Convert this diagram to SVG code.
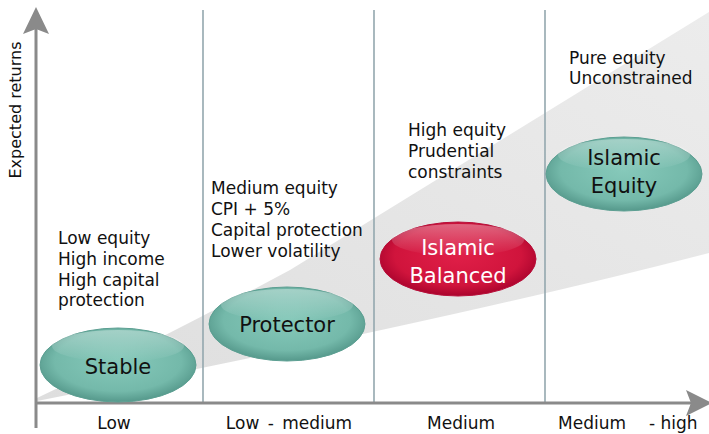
<svg xmlns="http://www.w3.org/2000/svg" width="709" height="434" viewBox="0 0 709 434">
<style>
.lbl{font-family:"DejaVu Sans",Verdana,sans-serif;font-size:17px;fill:#111}
.nd{font-family:"DejaVu Sans",Verdana,sans-serif;font-size:21px;text-anchor:middle}
.sep{stroke:#93a7ae;stroke-width:1.6}
.ax{stroke:#8a8a8a;stroke-width:3;fill:none}
</style>
<defs>
<linearGradient id="band" x1="0" y1="1" x2="1" y2="0">
<stop offset="0" stop-color="#dedede"/>
<stop offset="1" stop-color="#ececec"/>
</linearGradient>
<radialGradient id="teal" cx="50%" cy="45%" r="58%">
<stop offset="0" stop-color="#86c9ba"/>
<stop offset="0.7" stop-color="#74b9aa"/>
<stop offset="1" stop-color="#4f9285"/>
</radialGradient>
<radialGradient id="red" cx="50%" cy="45%" r="58%">
<stop offset="0" stop-color="#e01f48"/>
<stop offset="0.7" stop-color="#d0143c"/>
<stop offset="1" stop-color="#a2002a"/>
</radialGradient>
<linearGradient id="hl" x1="0" y1="0" x2="0" y2="1">
<stop offset="0" stop-color="#fff" stop-opacity="0.35"/>
<stop offset="1" stop-color="#fff" stop-opacity="0"/>
</linearGradient>
</defs>

<path d="M37,398 Q150,345 290,270 L709,12 L709,253 Q450,320 37,401 Z" fill="url(#band)"/>

<g id="connectors">
<line class="sep" x1="203" y1="10" x2="203" y2="402"/>
<line class="sep" x1="374" y1="10" x2="374" y2="402"/>
<line class="sep" x1="545" y1="10" x2="545" y2="402"/>
<line class="ax" x1="36" y1="428" x2="36" y2="28"/>
<path d="M36,7 L49,34 L36,29 L23,34 Z" fill="#8a8a8a"/>
<line class="ax" x1="36" y1="403" x2="692" y2="403"/>
<path d="M712,403 L686,390 L691,403 L686,416 Z" fill="#8a8a8a"/>
</g>

<g id="node-stable">
<ellipse cx="118" cy="365" rx="78" ry="37" fill="url(#teal)" stroke="#5c9f92" stroke-width="1"/>
<ellipse cx="118" cy="346" rx="66" ry="16" fill="url(#hl)"/>
<text class="nd" x="118" y="374" fill="#111">Stable</text>
</g>
<g id="node-protector">
<ellipse cx="287" cy="324" rx="78" ry="37" fill="url(#teal)" stroke="#5c9f92" stroke-width="1"/>
<ellipse cx="287" cy="305" rx="66" ry="16" fill="url(#hl)"/>
<text class="nd" x="287" y="332" fill="#111">Protector</text>
</g>
<g id="node-islamic-balanced">
<ellipse cx="458" cy="259" rx="78" ry="37" fill="url(#red)" stroke="#b8103a" stroke-width="1"/>
<ellipse cx="458" cy="240" rx="66" ry="16" fill="url(#hl)"/>
<text class="nd" x="458" y="255" fill="#fff">Islamic</text>
<text class="nd" x="458" y="283" fill="#fff">Balanced</text>
</g>
<g id="node-islamic-equity">
<ellipse cx="624" cy="174" rx="78" ry="37" fill="url(#teal)" stroke="#5c9f92" stroke-width="1"/>
<ellipse cx="624" cy="155" rx="66" ry="16" fill="url(#hl)"/>
<text class="nd" x="624" y="165" fill="#111">Islamic</text>
<text class="nd" x="624" y="193" fill="#111">Equity</text>
</g>

<g id="labels">
<text class="lbl" x="58" y="244">Low equity</text>
<text class="lbl" x="58" y="265">High income</text>
<text class="lbl" x="58" y="286">High capital</text>
<text class="lbl" x="58" y="306">protection</text>

<text class="lbl" x="211" y="194">Medium equity</text>
<text class="lbl" x="211" y="215">CPI + 5%</text>
<text class="lbl" x="211" y="236">Capital protection</text>
<text class="lbl" x="211" y="257">Lower volatility</text>

<text class="lbl" x="408" y="136">High equity</text>
<text class="lbl" x="408" y="157">Prudential</text>
<text class="lbl" x="408" y="178">constraints</text>

<text class="lbl" x="569" y="64">Pure equity</text>
<text class="lbl" x="569" y="84">Unconstrained</text>

<text class="lbl" x="114" y="429" text-anchor="middle">Low</text>
<text class="lbl" x="289" y="429" text-anchor="middle" word-spacing="3">Low - medium</text>
<text class="lbl" x="461" y="429" text-anchor="middle">Medium</text>
<text class="lbl" x="558" y="429">Medium <tspan x="649">- high</tspan></text>

<text class="lbl" x="21" y="110" text-anchor="middle" transform="rotate(-90 21 110)" style="font-size:16px">Expected returns</text>
</g>
</svg>
